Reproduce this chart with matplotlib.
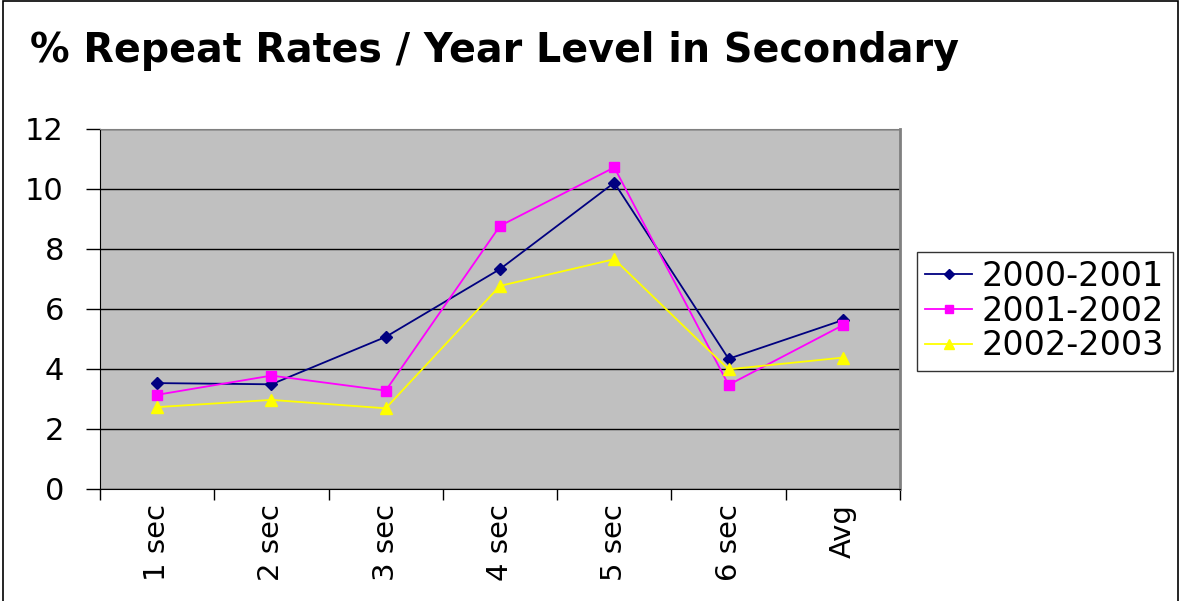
import matplotlib.pyplot as plt
from matplotlib.patches import Rectangle

categories = ['1 sec', '2 sec', '3 sec', '4 sec', '5 sec', '6 sec', 'Avg']
rates_2000_2001 = [3.53, 3.49, 5.07, 7.33, 10.21, 4.34, 5.63]
rates_2001_2002 = [3.14, 3.78, 3.28, 8.77, 10.72, 3.47, 5.46]
rates_2002_2003 = [2.73, 2.97, 2.69, 6.77, 7.66, 3.99, 4.38]
series_names = ['2000-2001', '2001-2002', '2002-2003']

plt.rcParams['font.family'] = ['DejaVu Sans']

fig = plt.figure(figsize=(11.81, 6.01), dpi=100)
ax = fig.add_axes([100 / 1181, 1 - 489 / 601, 800 / 1181, 360 / 601])

# cadre autour de la figure (coupé en bas comme sur l'original)
fig.patches.append(Rectangle((3 / 1181, -0.05), 1175 / 1181, 1.048, transform=fig.transFigure,
                             fill=False, edgecolor='black', linewidth=1.2))

x = list(range(len(categories)))
ax.plot(x, rates_2000_2001, color='#000080', marker='D', markersize=6.5, linewidth=1.3, label=series_names[0])
ax.plot(x, rates_2001_2002, color='#FF00FF', marker='s', markersize=7, linewidth=1.3, label=series_names[1])
ax.plot(x, rates_2002_2003, color='#FFFF00', marker='^', markersize=8.5, linewidth=1.3, label=series_names[2])

ax.set_facecolor('#C0C0C0')
ax.set_xlim(-0.5, len(categories) - 0.5)
ax.set_ylim(0, 12)
ax.set_yticks(range(0, 13, 2))
ax.yaxis.grid(True, color='black', linewidth=1)
ax.set_axisbelow(True)

ax.set_xticks([i - 0.5 for i in range(len(categories) + 1)])
ax.set_xticklabels([])
ax.set_xticks(x, minor=True)
ax.set_xticklabels(categories, minor=True, rotation=90, fontsize=21)
ax.tick_params(axis='x', which='minor', length=0, pad=11)
ax.tick_params(axis='x', which='major', length=8, width=1, direction='out')
ax.tick_params(axis='y', length=10, width=1, labelsize=22, pad=16)

ax.spines['top'].set_color('#808080')
ax.spines['right'].set_color('#808080')
ax.spines['right'].set_linewidth(2)

fig.text(30 / 1181, 1 - 62 / 601, '% Repeat Rates / Year Level in Secondary',
         fontsize=28.5, fontweight='bold')

leg = ax.legend(loc='center left', bbox_to_anchor=(917 / 1181, 1 - 311 / 601),
                bbox_transform=fig.transFigure, fontsize=24, frameon=True, fancybox=False,
                edgecolor='black', handlelength=1.4, borderpad=0.25, labelspacing=0.05,
                handletextpad=0.3, borderaxespad=0, markerscale=0.8)
leg.get_frame().set_linewidth(1)

fig.savefig('out.png', dpi=100)
